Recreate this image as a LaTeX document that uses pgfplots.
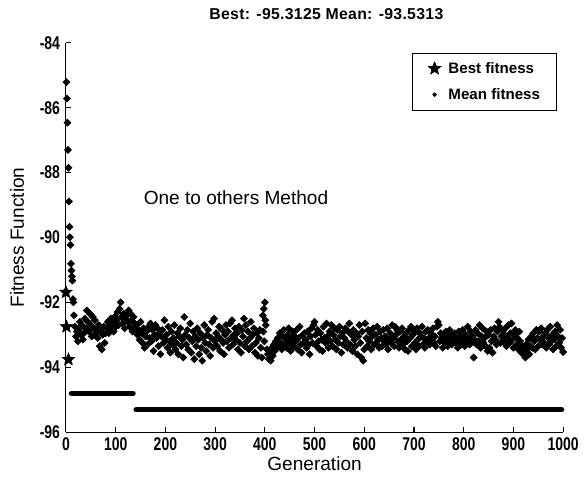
\documentclass[border=0pt]{standalone}
\usepackage{fontspec}
\setmainfont{Liberation Sans}
\usepackage{pgfplots}
\pgfplotsset{compat=1.18}
\usepackage{pgfplotstable}

% filled five-pointed star, as MATLAB draws it
\pgfdeclareplotmark{fstar}{%
  \pgfpathmoveto{\pgfpointpolar{90}{\pgfplotmarksize}}%
  \pgfpathlineto{\pgfpointpolar{126}{0.45\pgfplotmarksize}}%
  \pgfpathlineto{\pgfpointpolar{162}{\pgfplotmarksize}}%
  \pgfpathlineto{\pgfpointpolar{198}{0.45\pgfplotmarksize}}%
  \pgfpathlineto{\pgfpointpolar{234}{\pgfplotmarksize}}%
  \pgfpathlineto{\pgfpointpolar{270}{0.45\pgfplotmarksize}}%
  \pgfpathlineto{\pgfpointpolar{306}{\pgfplotmarksize}}%
  \pgfpathlineto{\pgfpointpolar{342}{0.45\pgfplotmarksize}}%
  \pgfpathlineto{\pgfpointpolar{18}{\pgfplotmarksize}}%
  \pgfpathlineto{\pgfpointpolar{54}{0.45\pgfplotmarksize}}%
  \pgfpathclose\pgfusepathqfillstroke}

% mean fitness per generation (read off the plot)
\pgfplotstableread[row sep=\\]{
x y\\
1 -85.21\\ 2 -85.72\\ 3 -86.46\\ 4 -87.30\\ 5 -87.85\\ 6 -88.89\\ 7 -89.67\\ 8 -89.99\\ 9 -90.23\\ 10 -90.81\\
11 -91.02\\ 12 -91.20\\ 13 -91.33\\ 14 -91.90\\ 15 -92.00\\
16 -92.40\\ 18 -92.75\\ 20 -93.05\\ 22 -92.90\\ 24 -93.20\\ 26 -92.85\\ 28 -92.60\\ 30 -93.00\\ 32 -92.70\\ 34 -93.15\\
36 -92.95\\ 38 -92.50\\ 40 -92.80\\
42 -92.25\\ 44 -92.60\\ 46 -92.90\\ 48 -92.35\\ 50 -92.70\\ 52 -93.05\\ 54 -92.45\\ 56 -92.80\\ 58 -92.55\\ 60 -92.95\\
62 -92.85\\ 64 -93.10\\ 66 -92.70\\ 68 -93.35\\ 70 -92.90\\ 72 -93.45\\ 74 -93.00\\ 76 -92.75\\ 78 -93.25\\ 80 -92.95\\
82 -92.80\\ 84 -92.60\\ 86 -92.95\\ 88 -92.70\\ 90 -92.50\\ 92 -92.85\\ 94 -92.65\\ 96 -92.90\\ 98 -92.45\\ 100 -92.75\\
102 -92.55\\ 104 -92.30\\ 106 -92.70\\ 108 -92.20\\ 110 -92.00\\ 112 -92.45\\ 114 -92.65\\ 116 -92.35\\ 118 -92.80\\ 120 -92.50\\
122 -92.40\\ 124 -92.60\\ 126 -92.25\\ 128 -92.75\\ 130 -92.35\\ 132 -92.55\\ 134 -92.90\\ 136 -92.45\\ 138 -92.65\\ 140 -92.80\\
142 -92.70\\ 144 -93.00\\ 146 -92.85\\ 148 -93.15\\ 150 -92.60\\ 152 -92.95\\ 154 -93.25\\ 156 -92.80\\ 158 -93.40\\ 160 -93.05\\
162 -92.90\\ 164 -93.30\\ 166 -92.75\\ 168 -93.10\\ 170 -92.65\\ 172 -93.20\\ 174 -92.85\\ 176 -93.50\\ 178 -93.00\\ 180 -92.70\\
182 -93.10\\ 184 -92.80\\ 186 -93.35\\ 188 -92.95\\ 190 -93.60\\ 192 -93.05\\ 194 -92.85\\ 196 -93.25\\ 198 -92.55\\ 200 -93.15\\
202 -93.00\\ 204 -93.40\\ 206 -92.75\\ 208 -93.20\\ 210 -93.55\\ 212 -92.90\\ 214 -93.30\\ 216 -93.10\\ 218 -92.70\\ 220 -93.45\\
222 -93.25\\ 224 -92.95\\ 226 -93.60\\ 228 -93.05\\ 230 -92.80\\ 232 -93.35\\ 234 -93.15\\ 236 -93.70\\ 238 -92.45\\ 240 -93.00\\
242 -93.30\\ 244 -92.85\\ 246 -93.45\\ 248 -93.10\\ 250 -92.65\\ 252 -93.55\\ 254 -93.20\\ 256 -92.90\\ 258 -93.75\\ 260 -93.05\\
262 -93.35\\ 264 -92.80\\ 266 -93.15\\ 268 -93.60\\ 270 -92.95\\ 272 -93.40\\ 274 -93.80\\ 276 -93.10\\ 278 -92.70\\ 280 -93.25\\
282 -93.50\\ 284 -93.00\\ 286 -92.85\\ 288 -93.30\\ 290 -93.65\\ 292 -93.10\\ 294 -92.60\\ 296 -93.40\\ 298 -92.50\\ 300 -93.20\\
302 -92.95\\ 304 -93.35\\ 306 -93.05\\ 308 -92.75\\ 310 -93.50\\ 312 -93.15\\ 314 -92.85\\ 316 -93.25\\ 318 -93.60\\ 320 -93.00\\
322 -92.70\\ 324 -93.20\\ 326 -92.90\\ 328 -93.40\\ 330 -92.65\\ 332 -93.10\\ 334 -92.55\\ 336 -93.30\\ 338 -93.00\\ 340 -92.80\\
342 -93.15\\ 344 -92.95\\ 346 -93.45\\ 348 -92.75\\ 350 -93.25\\ 352 -93.55\\ 354 -92.85\\ 356 -93.05\\ 358 -92.50\\ 360 -93.35\\
362 -92.70\\ 364 -93.20\\ 366 -92.90\\ 368 -93.45\\ 370 -93.10\\ 372 -92.60\\ 374 -93.35\\ 376 -93.00\\ 378 -92.80\\ 380 -93.55\\
382 -93.25\\ 384 -92.95\\ 386 -93.65\\ 388 -93.10\\ 390 -92.85\\ 392 -93.40\\ 394 -93.70\\ 396 -92.40\\ 397 -92.90\\ 398 -92.20\\
399 -93.20\\ 400 -92.00\\ 401 -92.55\\
402 -92.70\\ 404 -93.45\\ 406 -93.60\\ 408 -93.75\\ 410 -93.55\\ 412 -93.80\\ 414 -93.40\\ 416 -93.65\\ 418 -93.30\\ 420 -93.50\\
422 -93.20\\ 424 -93.40\\ 426 -93.10\\ 428 -93.35\\ 430 -92.95\\ 432 -93.25\\ 434 -93.45\\ 436 -93.05\\ 438 -92.85\\ 440 -93.30\\
442 -93.15\\ 444 -93.40\\ 446 -93.00\\ 448 -92.80\\ 450 -93.25\\ 452 -93.50\\ 454 -93.10\\ 456 -92.90\\ 458 -93.35\\ 460 -93.05\\
462 -93.20\\ 464 -92.85\\ 466 -93.45\\ 468 -93.10\\ 470 -92.75\\ 472 -93.30\\ 474 -93.55\\ 476 -93.00\\ 478 -93.25\\ 480 -92.95\\
482 -93.15\\ 484 -93.40\\ 486 -92.90\\ 488 -93.30\\ 490 -93.60\\ 492 -93.05\\ 494 -92.80\\ 496 -93.25\\ 498 -92.70\\ 500 -92.60\\
502 -93.00\\ 504 -93.35\\ 506 -92.85\\ 508 -93.20\\ 510 -93.45\\ 512 -92.95\\ 514 -93.15\\ 516 -93.50\\ 518 -92.75\\ 520 -93.10\\
522 -93.25\\ 524 -92.65\\ 526 -93.05\\ 528 -93.40\\ 530 -92.90\\ 532 -93.20\\ 534 -92.70\\ 536 -93.35\\ 538 -93.00\\ 540 -92.80\\
542 -93.15\\ 544 -93.45\\ 546 -92.85\\ 548 -93.25\\ 550 -92.75\\ 552 -93.05\\ 554 -93.55\\ 556 -92.95\\ 558 -93.30\\ 560 -93.10\\
562 -92.80\\ 564 -93.20\\ 566 -93.40\\ 568 -92.90\\ 570 -92.65\\ 572 -93.30\\ 574 -93.00\\ 576 -93.50\\ 578 -92.85\\ 580 -93.15\\
582 -93.35\\ 584 -92.95\\ 586 -93.60\\ 588 -93.05\\ 590 -92.70\\ 592 -93.25\\ 594 -93.70\\ 596 -92.90\\ 598 -93.80\\ 600 -93.45\\
602 -92.65\\ 604 -93.10\\ 606 -93.35\\ 608 -92.85\\ 610 -93.20\\ 612 -92.95\\ 614 -93.45\\ 616 -93.05\\ 618 -92.80\\ 620 -93.30\\
622 -93.00\\ 624 -93.25\\ 626 -92.75\\ 628 -93.15\\ 630 -93.40\\ 632 -92.90\\ 634 -93.10\\ 636 -93.35\\ 638 -92.85\\ 640 -93.20\\
642 -93.05\\ 644 -93.30\\ 646 -92.80\\ 648 -93.45\\ 650 -93.15\\ 652 -92.95\\ 654 -93.25\\ 656 -92.70\\ 658 -93.10\\ 660 -93.35\\
662 -92.75\\ 664 -93.00\\ 666 -92.85\\ 668 -93.20\\ 670 -93.40\\ 672 -92.90\\ 674 -93.15\\ 676 -92.80\\ 678 -93.30\\ 680 -93.05\\
682 -93.45\\ 684 -92.95\\ 686 -93.20\\ 688 -93.50\\ 690 -92.85\\ 692 -93.10\\ 694 -92.75\\ 696 -93.35\\ 698 -93.00\\ 700 -92.90\\
702 -93.25\\ 704 -93.45\\ 706 -92.80\\ 708 -93.15\\ 710 -93.35\\ 712 -92.95\\ 714 -93.05\\ 716 -92.75\\ 718 -93.30\\ 720 -93.10\\
722 -93.40\\ 724 -92.90\\ 726 -93.20\\ 728 -92.85\\ 730 -93.10\\ 732 -93.30\\ 734 -92.95\\ 736 -93.15\\ 738 -92.80\\ 740 -93.25\\
742 -93.05\\ 744 -93.35\\ 746 -92.75\\ 748 -92.60\\ 750 -92.70\\ 752 -93.20\\ 754 -92.95\\ 756 -93.10\\ 758 -93.40\\ 760 -93.00\\
762 -93.25\\ 764 -92.90\\ 766 -93.15\\ 768 -93.35\\ 770 -93.05\\ 772 -92.85\\ 774 -93.20\\ 776 -93.30\\ 778 -93.00\\ 780 -93.15\\
782 -92.95\\ 784 -93.25\\ 786 -93.10\\ 788 -93.40\\ 790 -92.90\\ 792 -93.20\\ 794 -93.05\\ 796 -93.30\\ 798 -92.85\\ 800 -93.15\\
802 -93.35\\ 804 -93.00\\ 806 -93.20\\ 808 -92.75\\ 810 -93.10\\ 812 -93.30\\ 814 -92.90\\ 816 -93.25\\ 818 -93.05\\ 820 -93.70\\
822 -93.15\\ 824 -92.85\\ 826 -93.30\\ 828 -92.95\\ 830 -93.20\\ 832 -92.70\\ 834 -93.40\\ 836 -93.05\\ 838 -92.80\\ 840 -93.25\\
842 -93.10\\ 844 -93.35\\ 846 -92.90\\ 848 -93.50\\ 850 -93.00\\ 852 -93.40\\ 854 -92.85\\ 856 -93.20\\ 858 -93.55\\ 860 -93.05\\
862 -92.80\\ 864 -93.15\\ 866 -93.30\\ 868 -92.90\\ 870 -92.60\\ 872 -92.75\\ 874 -93.25\\ 876 -93.05\\ 878 -92.85\\ 880 -93.20\\
882 -93.00\\ 884 -92.80\\ 886 -93.35\\ 888 -93.10\\ 890 -92.70\\ 892 -93.25\\ 894 -92.95\\ 896 -92.65\\ 898 -93.15\\ 900 -93.40\\
902 -93.00\\ 904 -92.85\\ 906 -93.30\\ 908 -93.10\\ 910 -93.45\\ 912 -92.90\\ 914 -93.20\\ 916 -93.55\\ 918 -93.35\\ 920 -93.60\\
922 -93.50\\ 924 -93.70\\ 926 -93.30\\ 928 -93.45\\ 930 -93.15\\ 932 -93.60\\ 934 -93.35\\ 936 -93.05\\ 938 -93.40\\ 940 -92.95\\
942 -93.20\\ 944 -93.45\\ 946 -92.85\\ 948 -93.10\\ 950 -93.35\\ 952 -92.90\\ 954 -93.15\\ 956 -92.80\\ 958 -93.30\\ 960 -93.05\\
962 -93.25\\ 964 -92.95\\ 966 -93.40\\ 968 -92.85\\ 970 -93.10\\ 972 -93.30\\ 974 -92.75\\ 976 -93.20\\ 978 -93.00\\ 980 -93.45\\
982 -93.15\\ 984 -92.90\\ 986 -93.35\\ 988 -92.70\\ 990 -93.05\\ 992 -93.25\\ 994 -92.85\\ 996 -93.40\\ 998 -93.10\\ 1000 -93.53\\
}\meandata

\begin{document}
\begin{tikzpicture}
\begin{axis}[
    scale only axis,
    width=378pt, height=296pt,
    xmin=0, xmax=1000,
    ymin=-96, ymax=-84,
    axis x line=bottom, axis y line=left,
    axis line style={-, line width=0.8pt},
    xtick={0,100,...,1000},
    ytick={-96,-94,...,-84},
    tick align=inside,
    major tick length=4pt,
    tick style={black, line width=0.8pt},
    /pgf/number format/assume math mode=true,
    /pgf/number format/1000 sep={},
    tick label style={font=\bfseries\fontsize{14}{14}\selectfont\addfontfeature{FakeStretch=0.76}},
    xticklabel style={yshift=-1pt},
    yticklabel style={xshift=-1pt},
    title={Best: -95.3125 Mean: -93.5313},
    title style={font=\bfseries\fontsize{12}{12}\selectfont\addfontfeature{LetterSpace=2}, yshift=8pt, xshift=9pt},
    xlabel={Generation},
    ylabel={Fitness Function},
    label style={font=\fontsize{14.5}{14.5}\selectfont},
    xlabel style={yshift=3pt},
    ylabel style={yshift=5pt},
    clip=false,
    legend style={at={(rel axis cs:0.986,0.975)}, anchor=north east,
        draw=black, line width=0.5pt, font=\bfseries\fontsize{11.5}{13}\selectfont,
        inner xsep=10pt, inner ysep=5pt, row sep=6pt, cells={anchor=west}},
    legend image code/.code={%
        \path[draw=none, fill=none] (0,0) rectangle (0.55cm,0.01cm);
        \draw[#1] plot coordinates {(0.25cm,0cm)};},
]
% best fitness: first generations as stars, then flat runs drawn thick
\addplot[only marks, mark=fstar, mark size=5pt, black]
    coordinates {(0,-91.69) (1,-92.75) (5,-93.76)};
\addlegendentry{Best fitness}
\addplot[only marks, mark=square*, mark size=1.9pt, mark options={rotate=45}, black,
    legend image post style={mark size=1pt}]
    table[x=x, y=y] {\meandata};
\addlegendentry{Mean fitness}
\addplot[forget plot, black, line width=4pt, line cap=round]
    coordinates {(11,-94.8125) (135,-94.8125)};
\addplot[forget plot, black, line width=4pt, line cap=round]
    coordinates {(141,-95.3125) (997,-95.3125)};
\node[font=\fontsize{14.5}{14.5}\selectfont] at (axis cs:342,-88.77) {One to others Method};
% page frame as in the original figure, wide enough for the last tick label
\coordinate (bbsw) at (rel axis cs:-0.1327,-0.1226);
\coordinate (bbne) at (rel axis cs:1.042,1.110);
\end{axis}
\pgfresetboundingbox
\path (bbsw) rectangle (bbne);
\end{tikzpicture}
\end{document}
